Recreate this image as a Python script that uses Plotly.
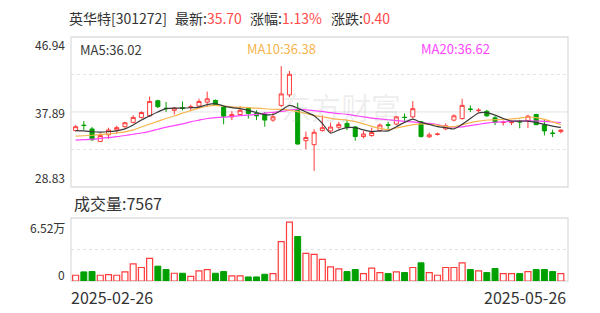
import plotly.graph_objects as go

# ---------------- data ----------------
stock_name = "英华特[301272]"
latest_price = "35.70"
change_pct = "1.13%"
change_amt = "0.40"
last_volume = "7567"
date_labels = ["2025-02-26", "2025-05-26"]
price_ticks = [46.94, 37.89, 28.83]
vol_tick_labels = ["6.52万", "0"]
vol_axis_max = 65200

opens = [35.64, 36.30, 35.84, 34.33, 35.13, 35.72, 36.11, 36.63, 37.23, 37.42,
         39.24, 38.35, 38.09, 38.40, 38.45, 38.60, 39.08, 39.28, 38.48, 37.30,
         37.58, 38.41, 37.70, 37.62, 36.91, 38.68, 39.95, 38.09, 34.42, 33.94,
         35.64, 35.60, 36.04, 36.51, 36.08, 34.92, 35.04, 35.64, 36.35, 36.43,
         37.26, 37.30, 36.70, 34.89, 35.18, 35.84, 36.91, 37.10, 38.25, 38.05,
         37.97, 37.18, 36.60, 36.60, 36.72, 36.79, 37.58, 36.31, 35.35, 35.52]
highs = [36.30, 36.79, 36.08, 35.33, 35.99, 36.23, 36.70, 37.50, 37.97, 39.75,
         39.36, 39.10, 38.48, 39.16, 38.77, 39.48, 40.35, 39.40, 38.60, 37.97,
         38.60, 38.48, 38.09, 37.89, 37.89, 43.43, 42.84, 39.00, 35.52, 35.80,
         37.50, 36.60, 36.70, 36.90, 36.19, 35.60, 35.99, 36.51, 36.70, 37.40,
         37.70, 39.20, 36.80, 35.40, 35.40, 36.50, 37.60, 39.48, 38.68, 38.36,
         38.15, 37.40, 36.85, 36.85, 36.95, 37.55, 37.68, 36.90, 35.75, 35.80]
lows = [35.52, 35.72, 34.42, 34.26, 34.65, 35.25, 35.99, 36.51, 37.10, 37.30,
        38.36, 37.90, 37.58, 38.09, 38.09, 38.48, 38.48, 38.68, 36.40, 36.91,
        37.42, 37.10, 36.91, 36.11, 36.70, 38.48, 39.67, 33.94, 33.40, 30.77,
        35.52, 35.40, 35.85, 35.70, 34.42, 34.70, 34.90, 35.50, 35.80, 36.30,
        36.79, 37.10, 34.80, 34.75, 35.05, 35.70, 36.75, 36.95, 37.89, 37.77,
        37.30, 36.30, 36.25, 36.30, 35.92, 35.95, 36.30, 35.05, 34.85, 35.30]
closes = [36.11, 36.25, 34.53, 35.04, 35.72, 36.00, 36.59, 37.23, 37.82, 39.16,
          38.53, 38.30, 38.36, 38.35, 38.50, 39.16, 39.48, 38.80, 37.38, 37.58,
          38.09, 37.70, 37.42, 36.91, 37.30, 40.07, 42.44, 34.02, 34.81, 35.44,
          35.99, 36.07, 36.39, 36.04, 34.92, 35.23, 35.40, 36.31, 36.28, 37.30,
          37.22, 38.29, 34.92, 35.13, 35.22, 36.23, 37.42, 38.68, 38.20, 38.10,
          37.42, 36.63, 36.65, 36.64, 36.68, 37.38, 36.35, 35.60, 35.30, 35.70]
volumes = [5930, 9400, 9760, 5930, 6630, 5930, 9400, 17800, 13950, 23360,
           15340, 11860, 8020, 8020, 4880, 10460, 11860, 8020, 9760, 5230,
           5230, 4180, 4180, 6970, 7670, 40800, 61020, 46030, 28590, 27550,
           22320, 14650, 12550, 9760, 11860, 7670, 13250, 8720, 7670, 9400,
           8720, 13950, 18830, 8720, 5930, 13950, 13950, 18830, 11860, 10460,
           8720, 12900, 7670, 7670, 7670, 9760, 11860, 11860, 9760, 7567]
ma5 = [35.64, 35.60, 35.52, 35.45, 35.52, 35.60, 35.84, 36.31, 36.91, 37.42,
       37.89, 38.29, 38.36, 38.36, 38.40, 38.48, 38.77, 38.89, 38.60, 38.41,
       38.29, 38.09, 37.82, 37.58, 37.58, 38.09, 38.68, 38.36, 37.89, 37.42,
       36.51, 35.33, 35.72, 35.99, 35.99, 35.72, 35.52, 35.60, 35.60, 36.11,
       36.63, 37.02, 36.63, 36.39, 36.11, 35.99, 35.84, 36.39, 37.10, 37.77,
       37.80, 37.50, 37.10, 36.79, 36.79, 36.79, 36.63, 36.39, 36.19, 36.02]
ma10 = [34.97, 35.02, 35.08, 35.15, 35.25, 35.35, 35.48, 35.72, 36.08, 36.42,
        36.75, 37.10, 37.40, 37.75, 38.05, 38.35, 38.58, 38.68, 38.60, 38.50,
        38.45, 38.42, 38.35, 38.28, 38.22, 38.20, 38.10, 37.92, 37.70, 37.48,
        37.30, 37.12, 37.00, 36.90, 36.72, 36.45, 36.15, 35.90, 35.75, 35.95,
        36.15, 36.35, 36.45, 36.40, 36.30, 36.15, 36.10, 36.35, 36.60, 36.78,
        36.92, 36.95, 36.98, 37.05, 37.15, 37.28, 37.20, 37.00, 36.70, 36.38]
ma20 = [34.50, 34.55, 34.60, 34.70, 34.80, 34.90, 35.05, 35.20, 35.35, 35.55,
        35.80, 36.05, 36.25, 36.45, 36.70, 36.90, 37.10, 37.20, 37.25, 37.35,
        37.45, 37.50, 37.60, 37.75, 37.85, 37.95, 38.10, 38.20, 38.15, 38.05,
        37.95, 37.80, 37.70, 37.60, 37.45, 37.30, 37.15, 37.05, 36.95, 36.85,
        36.75, 36.70, 36.60, 36.50, 36.35, 36.15, 36.05, 36.10, 36.25, 36.40,
        36.55, 36.65, 36.70, 36.75, 36.80, 36.82, 36.80, 36.75, 36.68, 36.62]

# ---------------- style ----------------
W, H = 600, 313
RED = "#ff3b3b"
GREEN = "#00a000"
TXT = "#333333"
VAL_RED = "#ff4a4a"
C_MA5 = "#3a3a3a"
C_MA10 = "#f7b54e"
C_MA20 = "#ff45ff"
GRID = "#e2e2e2"
FONT = "Noto Sans CJK SC, Noto Sans, sans-serif"

def px(xp):
    return xp / W

def py(yp):
    return 1 - yp / H

X0, X1 = 71, 568
P_TOP, P_BOT = 37, 187
V_TOP, V_BOT = 218, 281

n = len(closes)
x = list(range(n))
xr = [-0.56, n - 1 + 0.87]

fig = go.Figure()
fig.add_trace(go.Candlestick(
    x=x, open=opens, high=highs, low=lows, close=closes,
    increasing=dict(line=dict(color=RED, width=1), fillcolor="white"),
    decreasing=dict(line=dict(color=GREEN, width=1), fillcolor=GREEN),
    whiskerwidth=0, hoverinfo="skip", showlegend=False,
    xaxis="x", yaxis="y"))

for vals, col in ((ma20, C_MA20), (ma10, C_MA10), (ma5, C_MA5)):
    fig.add_trace(go.Scatter(
        x=x, y=vals, mode="lines",
        line=dict(color=col, width=1.2, shape="spline", smoothing=0.6),
        hoverinfo="skip", showlegend=False, xaxis="x", yaxis="y"))

up = [c >= o for o, c in zip(opens, closes)]
vol_up = [v if u else None for v, u in zip(volumes, up)]
vol_dn = [None if u else v for v, u in zip(volumes, up)]
fig.add_trace(go.Bar(
    x=x, y=vol_up, width=0.72,
    marker=dict(color="white", line=dict(color=RED, width=1.2)),
    hoverinfo="skip", showlegend=False, xaxis="x2", yaxis="y2"))
fig.add_trace(go.Bar(
    x=x, y=vol_dn, width=0.72,
    marker=dict(color=GREEN, line=dict(color=GREEN, width=1)),
    hoverinfo="skip", showlegend=False, xaxis="x2", yaxis="y2"))

ax_common = dict(showgrid=False, zeroline=False, showticklabels=False,
                 ticks="", showline=False, fixedrange=True)
fig.update_layout(
    width=W, height=H, margin=dict(l=0, r=0, t=0, b=0),
    paper_bgcolor="white", plot_bgcolor="white",
    font=dict(family=FONT, color=TXT, size=12),
    barmode="overlay",
    xaxis=dict(domain=[px(X0), px(X1)], range=xr, anchor="y",
               rangeslider=dict(visible=False), **ax_common),
    yaxis=dict(domain=[py(P_BOT), py(P_TOP)],
               range=[price_ticks[2], price_ticks[0]], anchor="x", **ax_common),
    xaxis2=dict(domain=[px(X0), px(X1)], range=xr, anchor="y2", **ax_common),
    yaxis2=dict(domain=[py(V_BOT), py(V_TOP)], range=[0, vol_axis_max],
                anchor="x2", **ax_common),
)

shapes = []
# panel borders
shapes.append(dict(type="rect", xref="x domain", yref="y domain", x0=0, x1=1, y0=0, y1=1,
                   line=dict(color="#dedede", width=1.3), layer="below"))
shapes.append(dict(type="rect", xref="x2 domain", yref="y2 domain", x0=0, x1=1, y0=0, y1=1,
                   line=dict(color="#dedede", width=1.3), layer="below"))
# price grid
mid = price_ticks[1]
q_hi = (price_ticks[0] + price_ticks[1]) / 2
q_lo = (price_ticks[1] + price_ticks[2]) / 2
shapes.append(dict(type="line", xref="x domain", yref="y", x0=0, x1=1, y0=mid, y1=mid,
                   line=dict(color=GRID, width=1), layer="below"))
for yv in (q_hi, q_lo):
    shapes.append(dict(type="line", xref="x domain", yref="y", x0=0, x1=1, y0=yv, y1=yv,
                       line=dict(color=GRID, width=1, dash="3px,3px"), layer="below"))
shapes.append(dict(type="line", xref="x2 domain", yref="y2", x0=0, x1=1,
                   y0=vol_axis_max / 2, y1=vol_axis_max / 2,
                   line=dict(color=GRID, width=1, dash="3px,3px"), layer="below"))
fig.update_layout(shapes=shapes)

ann = []
def add_text(text, xp, yp, size, color=TXT, xanchor="left", yanchor="middle"):
    ann.append(dict(text=text, x=px(xp), y=py(yp), xref="paper", yref="paper",
                    xanchor=xanchor, yanchor=yanchor, showarrow=False,
                    font=dict(size=size, color=color, family=FONT)))

# header
add_text(stock_name, 66.5, 17.5, 14)
add_text("最新:<span style='color:%s'>%s</span>" % (VAL_RED, latest_price), 172.5, 17.5, 14)
add_text("涨幅:<span style='color:%s'>%s</span>" % (VAL_RED, change_pct), 248, 17.5, 14)
add_text("涨跌:<span style='color:%s'>%s</span>" % (VAL_RED, change_amt), 329, 17.5, 14)

# MA labels
add_text("MA5:%.2f" % ma5[-1], 78, 50, 13, C_MA5)
add_text("MA10:%.2f" % ma10[-1], 245, 48.5, 13, C_MA10)
add_text("MA20:%.2f" % ma20[-1], 419, 48.5, 13, C_MA20)

# price axis labels
add_text("%.2f" % price_ticks[0], 67, 45, 12, xanchor="right")
add_text("%.2f" % price_ticks[1], 67, 112, 12, xanchor="right")
add_text("%.2f" % price_ticks[2], 67, 178, 12, xanchor="right")

# volume
add_text("成交量:" + last_volume, 72, 203, 16)
add_text(vol_tick_labels[0], 67, 227.5, 12, xanchor="right")
add_text(vol_tick_labels[1], 67, 274, 12, xanchor="right")

# dates
add_text(date_labels[0], 69, 297, 16)
add_text(date_labels[1], 568, 297, 16, xanchor="right")

# watermark
ann.append(dict(text="东方财富", x=px(341), y=py(106), xref="paper", yref="paper",
                showarrow=False, font=dict(size=30, color="rgba(150,150,150,0.16)", family=FONT)))

fig.update_layout(annotations=ann)
fig.write_html("out.html")
